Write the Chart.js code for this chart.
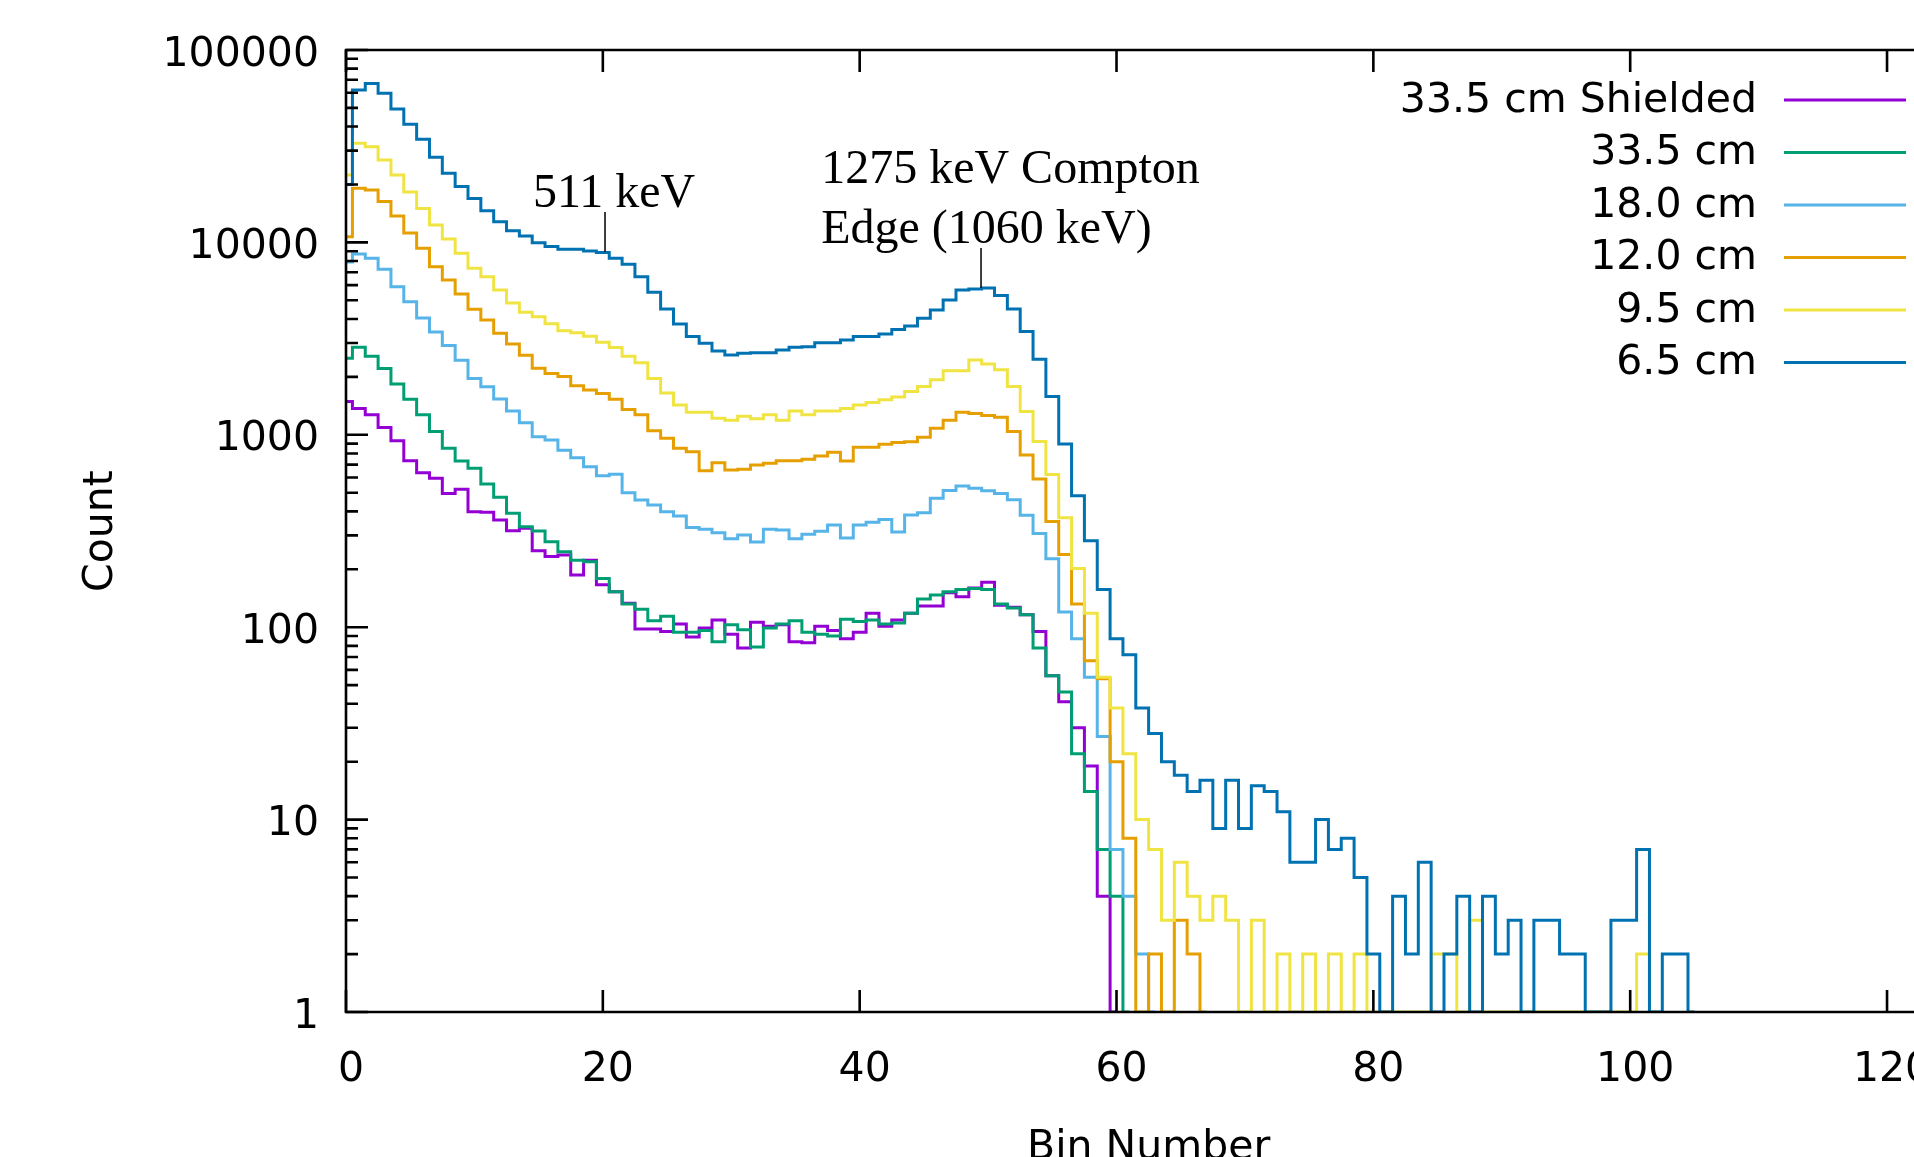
<!DOCTYPE html>
<html>
<head>
<meta charset="utf-8">
<script src="https://cdn.jsdelivr.net/npm/chart.js@4.4.1/dist/chart.umd.min.js"></script>
<style>
html,body{margin:0;padding:0;background:#fff;overflow:hidden}
#wrap{width:1914px;height:1157px;position:relative}
</style>
</head>
<body>
<div id="wrap"><canvas id="c" width="1914" height="1157"></canvas></div>
<script>
// ---- Data (index = bin number) ----
const seriesLabels = ['33.5 cm Shielded', '33.5 cm', '18.0 cm', '12.0 cm', '9.5 cm', '6.5 cm'];
const seriesColors = ['#9400d3', '#009e73', '#56b4e9', '#e69f00', '#f0e442', '#0072b2'];

const shielded335 = [1490, 1370, 1270, 1090, 931, 734, 635, 594, 496, 521,
  398, 396, 361, 317, 327, 250, 233, 237, 187, 223,
  166, 153, 133, 98, 98, 95, 104, 89, 99, 109,
  92, 78, 106, 101, 103, 84, 83, 101, 96, 87,
  94, 118, 101, 109, 118, 129, 129, 151, 144, 160,
  171, 130, 127, 116, 95, 56, 41, 30, 19, 4,
  1];

const cm335 = [2500, 2850, 2560, 2210, 1835, 1530, 1270, 1040, 851, 731,
  670, 555, 473, 391, 333, 316, 278, 247, 223, 219,
  179, 153, 132, 124, 108, 114, 94, 94, 96, 84,
  103, 97, 79, 99, 104, 108, 94, 92, 90, 110,
  107, 109, 104, 105, 118, 140, 147, 153, 157, 159,
  157, 132, 126, 116, 78, 56, 46, 22, 14, 7,
  4, 1];

const cm180 = [7900, 8700, 8270, 7250, 5890, 4920, 4050, 3420, 2910, 2440,
  1960, 1775, 1535, 1330, 1155, 978, 940, 830, 760, 683,
  613, 623, 500, 458, 432, 398, 378, 330, 323, 310,
  288, 301, 277, 323, 320, 288, 304, 315, 340, 291,
  340, 351, 363, 312, 383, 394, 468, 513, 542, 527,
  512, 495, 460, 382, 307, 227, 120, 87, 55, 27,
  7, 4, 2, 1];

const cm120 = [10700, 19100, 18700, 16300, 13700, 11200, 9320, 7470, 6380, 5400,
  4490, 3950, 3370, 2960, 2590, 2220, 2085, 2010, 1800, 1710,
  1640, 1530, 1355, 1270, 1050, 960, 851, 817, 651, 716,
  656, 662, 697, 711, 734, 734, 747, 777, 811, 731,
  861, 861, 893, 911, 921, 970, 1080, 1190, 1310, 1290,
  1260, 1235, 1040, 785, 590, 354, 239, 132, 67, 54,
  20, 8, 1, 2, 1, 3, 2, 1];

const cm95 = [22400, 32800, 31400, 26800, 22400, 18300, 15000, 12300, 10400, 8780,
  7330, 6630, 5660, 4840, 4330, 4110, 3780, 3470, 3390, 3250,
  3030, 2840, 2560, 2370, 1960, 1650, 1430, 1310, 1310, 1220,
  1190, 1250, 1210, 1270, 1190, 1330, 1270, 1330, 1330, 1370,
  1430, 1470, 1520, 1570, 1680, 1780, 1930, 2150, 2150, 2450,
  2330, 2175, 1780, 1320, 923, 622, 371, 202, 118, 55,
  38, 22, 10, 7, 3, 6, 4, 3, 4, 3,
  1, 3, 1, 2, 1, 2, 1, 2, 1, 2,
  1, 1, 1, 1, 1, 2, 2, 1, 3, 1,
  1, 1, 1, 1, 1, 1, 1, 1, 1, 1,
  1, 2, 1];

const cm65 = [20000, 62000, 67000, 59600, 49400, 41100, 34400, 27700, 22900, 19500,
  16900, 14600, 12800, 11500, 10800, 9970, 9510, 9210, 9210, 9020,
  8850, 8270, 7690, 6630, 5500, 4500, 3770, 3240, 2990, 2730,
  2600, 2650, 2670, 2670, 2760, 2850, 2870, 3010, 3010, 3110,
  3240, 3240, 3340, 3530, 3680, 4030, 4450, 5020, 5660, 5730,
  5790, 5300, 4500, 3440, 2470, 1580, 897, 482, 281, 157,
  87, 72, 38, 28, 20, 17, 14, 16, 9, 16,
  9, 15, 14, 11, 6, 6, 10, 7, 8, 5,
  2, 1, 4, 2, 6, 1, 2, 4, 1, 4,
  2, 3, 1, 3, 3, 2, 2, 1, 1, 3,
  3, 7, 1, 2, 2, 1];

const seriesValues = [shielded335, cm335, cm180, cm120, cm95, cm65];

const xTickValues = [0, 20, 40, 60, 80, 100, 120];
const yDecadeValues = [1, 10, 100, 1000, 10000, 100000];

const annotationTexts = [
  {text: '511 keV', x: 14.56, y: 15300},
  {text: '1275 keV Compton', x: 37.0, y: 20400},
  {text: 'Edge (1060 keV)', x: 37.0, y: 9930}
];
const annotationLines = [
  {x: 20.17, y1: 14400, y2: 8920},
  {x: 49.45, y1: 9350, y2: 5800}
];

// ---- Chart ----
const SANS = "'DejaVu Sans', sans-serif";
const SERIF = "'Liberation Serif', 'Times New Roman', serif";

const datasets = seriesValues.map((vals, i) => ({
  label: seriesLabels[i],
  data: vals.map((v, b) => ({x: b, y: v})),
  borderColor: seriesColors[i],
  backgroundColor: seriesColors[i],
  borderWidth: 3,
  pointRadius: 0,
  stepped: 'middle',
  fill: false,
  order: seriesValues.length - 1 - i
}));

function isDecade(v) {
  const l = Math.round(Math.log10(v));
  return Math.abs(v - Math.pow(10, l)) < 1e-6 * Math.max(1, v);
}

const framePlugin = {
  id: 'framePlugin',
  afterDatasetsDraw(chart) {
    const {ctx, chartArea: a} = chart;
    const xs = chart.scales.x, ys = chart.scales.y;
    ctx.save();
    ctx.strokeStyle = '#000';
    ctx.lineWidth = 2.6;
    ctx.lineCap = 'butt';
    ctx.beginPath();
    ctx.moveTo(a.right + 5, a.top);
    ctx.lineTo(a.left, a.top);
    ctx.lineTo(a.left, a.bottom);
    ctx.lineTo(a.right + 5, a.bottom);
    ctx.stroke();
    ctx.beginPath();
    xTickValues.forEach(v => {
      const px = xs.getPixelForValue(v);
      ctx.moveTo(px, a.bottom); ctx.lineTo(px, a.bottom - 22);
      ctx.moveTo(px, a.top); ctx.lineTo(px, a.top + 22);
    });
    yDecadeValues.forEach(d => {
      const py = ys.getPixelForValue(d);
      ctx.moveTo(a.left, py); ctx.lineTo(a.left + 22, py);
      if (d < 100000) {
        for (let m = 2; m <= 9; m++) {
          const pm = ys.getPixelForValue(d * m);
          ctx.moveTo(a.left, pm); ctx.lineTo(a.left + 12, pm);
        }
      }
    });
    ctx.stroke();
    ctx.restore();
  },
  afterDraw(chart) {
    const {ctx, chartArea: a} = chart;
    const xs = chart.scales.x, ys = chart.scales.y;
    ctx.save();
    // axis titles
    ctx.fillStyle = '#000';
    ctx.font = '41px ' + SANS;
    ctx.textAlign = 'center';
    ctx.textBaseline = 'alphabetic';
    ctx.fillText('Bin Number', xs.getPixelForValue(62.5), 1159);
    ctx.save();
    ctx.translate(101, (a.top + a.bottom) / 2);
    ctx.rotate(-Math.PI / 2);
    ctx.textBaseline = 'middle';
    ctx.fillText('Count', 0, 0);
    ctx.restore();
    // legend
    ctx.textAlign = 'right';
    ctx.textBaseline = 'middle';
    seriesLabels.forEach((lab, i) => {
      const yy = 100 + 52.5 * i;
      ctx.fillStyle = '#000';
      ctx.fillText(lab, 1757, yy + 1);
      ctx.strokeStyle = seriesColors[i];
      ctx.lineWidth = 3;
      ctx.beginPath();
      ctx.moveTo(1784, yy); ctx.lineTo(1906, yy);
      ctx.stroke();
    });
    // annotations
    ctx.fillStyle = '#000';
    ctx.font = '48px ' + SERIF;
    ctx.textAlign = 'left';
    ctx.textBaseline = 'alphabetic';
    annotationTexts.forEach(t => {
      ctx.fillText(t.text, xs.getPixelForValue(t.x), ys.getPixelForValue(t.y));
    });
    ctx.strokeStyle = '#000';
    ctx.lineWidth = 1.5;
    ctx.beginPath();
    annotationLines.forEach(l => {
      const px = xs.getPixelForValue(l.x);
      ctx.moveTo(px, ys.getPixelForValue(l.y1));
      ctx.lineTo(px, ys.getPixelForValue(l.y2));
    });
    ctx.stroke();
    ctx.restore();
  }
};

new Chart(document.getElementById('c'), {
  type: 'line',
  data: {datasets},
  plugins: [framePlugin],
  options: {
    responsive: false,
    animation: false,
    devicePixelRatio: 1,
    layout: {padding: {top: 50, left: 0, right: 0, bottom: 0}},
    plugins: {legend: {display: false}, tooltip: {enabled: false}, title: {display: false}},
    elements: {line: {tension: 0}},
    scales: {
      x: {
        type: 'linear', min: 0, max: 122.1,
        grid: {display: false, drawTicks: false},
        border: {display: false},
        ticks: {
          stepSize: 20, includeBounds: false, padding: 34, labelOffset: 5, autoSkip: false, maxRotation: 0,
          color: '#000', font: {family: SANS, size: 41, lineHeight: 1.2},
          callback: v => xTickValues.includes(v) ? String(v) : ''
        },
        afterFit: s => { s.height = 145; s.paddingLeft = 0; s.paddingRight = 0; }
      },
      y: {
        type: 'logarithmic', min: 1, max: 100000,
        grid: {display: false, drawTicks: false},
        border: {display: false},
        ticks: {
          padding: 27, labelOffset: 5, autoSkip: false,
          color: '#000', font: {family: SANS, size: 41, lineHeight: 1.2},
          callback: v => isDecade(v) ? String(Math.round(v)) : ''
        },
        afterFit: s => { s.width = 346; s.paddingTop = 0; s.paddingBottom = 0; }
      }
    }
  }
});
</script>
</body>
</html>
